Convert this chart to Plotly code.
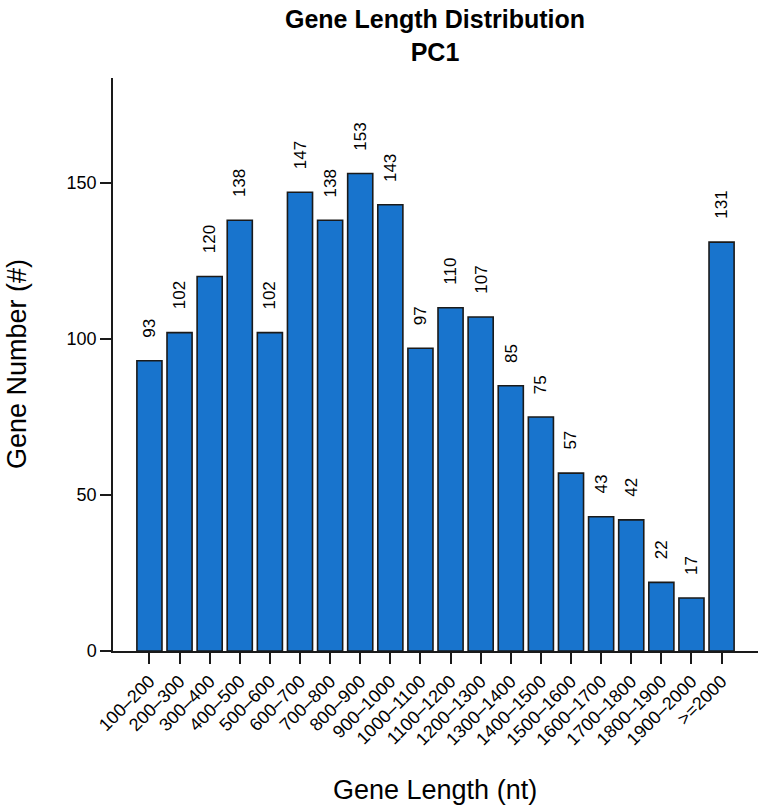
import plotly.graph_objects as go

categories = ["100–200", "200–300", "300–400", "400–500", "500–600", "600–700",
              "700–800", "800–900", "900–1000", "1000–1100", "1100–1200", "1200–1300",
              "1300–1400", "1400–1500", "1500–1600", "1600–1700", "1700–1800",
              "1800–1900", "1900–2000", ">=2000"]
gene_counts = [93, 102, 120, 138, 102, 147, 138, 153, 143, 97, 110, 107,
               85, 75, 57, 43, 42, 22, 17, 131]
y_ticks = [0, 50, 100, 150]

title_line1 = "Gene Length Distribution"
title_line2 = "PC1"
x_title = "Gene Length (nt)"
y_title = "Gene Number (#)"

W, H = 762, 811
L, R, T, B = 113, 4, 78, 160
plot_w = W - L - R
plot_h = H - T - B

FONT = "Liberation Sans, Arial, Helvetica, sans-serif"
BAR_COLOR = "#1874CD"
EDGE = "#1a1a1a"

n = len(categories)
bar_frac = 1 / 1.2
span = (n - 1) + bar_frac
pad = 0.04 * span
x_range = [-bar_frac / 2 - pad, n - 1 + bar_frac / 2 + pad]
y_max = max(gene_counts) * 1.2


def px(p):
    return (p - L) / plot_w


def py(p):
    return (H - B - p) / plot_h


fig = go.Figure()
fig.add_trace(go.Bar(
    x=categories, y=gene_counts,
    marker=dict(color=BAR_COLOR, line=dict(color=EDGE, width=1.6)),
    hoverinfo="x+y",
))

annotations = []
for c, v in zip(categories, gene_counts):
    annotations.append(dict(
        x=c, y=v, xref="x", yref="y", text=str(v), showarrow=False,
        textangle=-90, xanchor="center", yanchor="bottom", yshift=21,
        font=dict(family=FONT, size=17, color="black"),
    ))

annotations += [
    dict(x=px(435), y=py(35), xref="paper", yref="paper",
         text=f"<b>{title_line1}</b><br><b>{title_line2}</b>",
         showarrow=False, xanchor="center", yanchor="middle",
         font=dict(family=FONT, size=25, color="black")),
    dict(x=px(435), y=py(790), xref="paper", yref="paper", text=x_title,
         showarrow=False, xanchor="center", yanchor="middle",
         font=dict(family=FONT, size=27, color="black")),
    dict(x=px(17), y=py(364), xref="paper", yref="paper", text=y_title,
         showarrow=False, xanchor="center", yanchor="middle", textangle=-90,
         font=dict(family=FONT, size=27, color="black")),
]

fig.update_layout(
    width=W, height=H,
    margin=dict(l=L, r=R, t=T, b=B, pad=0),
    paper_bgcolor="white", plot_bgcolor="white",
    bargap=1 - bar_frac,
    showlegend=False,
    annotations=annotations,
    font=dict(family=FONT, color="black"),
)
fig.update_xaxes(
    type="category", range=x_range, showgrid=False, zeroline=False,
    showline=True, linecolor=EDGE, linewidth=1.5,
    ticks="outside", ticklen=11, tickwidth=1.5, tickcolor=EDGE,
    tickangle=-45, tickfont=dict(family=FONT, size=18, color="black"),
)
fig.update_yaxes(
    range=[0, y_max], showgrid=False, zeroline=False,
    showline=True, linecolor=EDGE, linewidth=1.5,
    ticks="outside", ticklen=11, tickwidth=1.5, tickcolor=EDGE,
    tickvals=y_ticks, ticktext=[str(t) for t in y_ticks],
    tickfont=dict(family=FONT, size=18, color="black"),
)

fig.write_html("out.html")
